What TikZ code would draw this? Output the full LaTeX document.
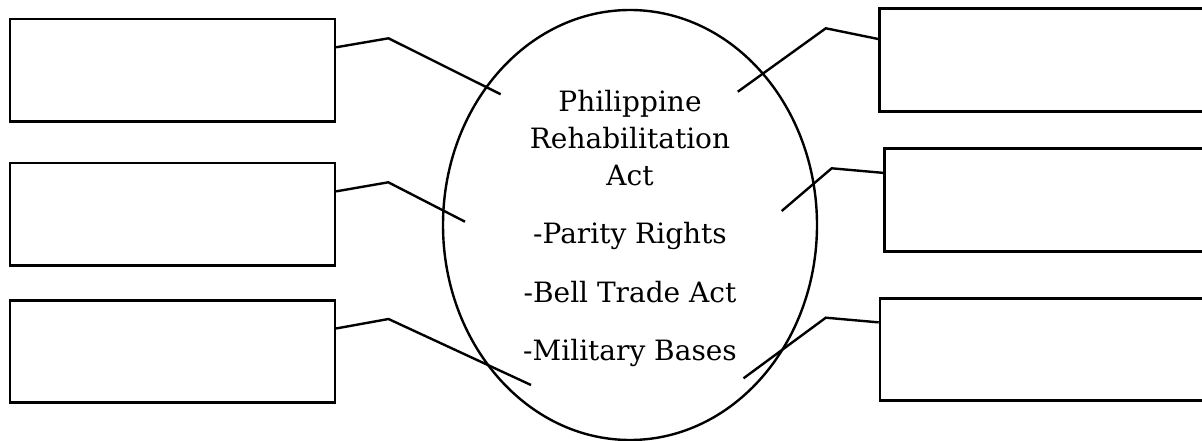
\documentclass[tikz,border=0pt]{standalone}
\usepackage{fontspec}
\setmainfont{DejaVu Serif}
\usetikzlibrary{shapes.geometric}
\tikzset{
  blank/.style={draw=black, line width=2.6pt, rectangle, inner sep=0pt, minimum width=325pt, minimum height=102.5pt},
  rblank/.style={blank, minimum width=340pt},
  link/.style={draw=black, line width=2.4pt, line join=miter},
  hub/.style={draw=black, line width=2.4pt, ellipse, inner sep=0pt, minimum width=374pt, minimum height=430pt},
  label/.style={anchor=base, inner sep=0pt, font=\fontsize{28}{32}\selectfont}
}
\begin{document}
\begin{tikzpicture}[x=1pt, y=-1pt]
\useasboundingbox (0,0) rectangle (1202,441);
\clip (0,0) rectangle (1202,441);
\fill[white] (0,0) rectangle (1202,441);
% central ellipse
\node[hub] (hub) at (630,225) {};
% text
\node[label] (t1) at (630,111.7) {Philippine};
\node[label] (t2) at (630,148.5) {Rehabilitation};
\node[label] (t3) at (630,185.7) {Act};
\node[label] (p1) at (630,243.3) {-Parity Rights};
\node[label] (p2) at (630,302.7) {-Bell Trade Act};
\node[label] (p3) at (630,360.7) {-Military Bases};
% left boxes
\node[blank] (lb1) at (172.3,70.3) {};
\node[blank] (lb2) at (172.3,214.4) {};
\node[blank] (lb3) at (172.3,351.5) {};
% right boxes
\node[rblank] (rb1) at (1049.4,60) {};
\node[rblank] (rb2) at (1054.5,200) {};
\node[rblank] (rb3) at (1050,349.5) {};
% bend and end coordinates
\coordinate (l1b) at (388.5,38.3);  \coordinate (l1e) at (500.7,94.3);
\coordinate (l2b) at (388.3,182.3); \coordinate (l2e) at (465,221.7);
\coordinate (l3b) at (388.5,319);   \coordinate (l3e) at (531,385);
\coordinate (r1b) at (825.8,28.3);  \coordinate (r1e) at (737.8,91.7);
\coordinate (r2b) at (831.7,168.3); \coordinate (r2e) at (781.7,211);
\coordinate (r3b) at (825.8,317.7); \coordinate (r3e) at (743.5,378.3);
% connectors
\draw[link] (lb1.8.8) -- (l1b) -- (l1e);
\draw[link] (lb2.8.8) -- (l2b) -- (l2e);
\draw[link] (lb3.8.7) -- (l3b) -- (l3e);
\draw[link] (rb1.173.6) -- (r1b) -- (r1e);
\draw[link] (rb2.171.6) -- (r2b) -- (r2e);
\draw[link] (rb3.171.6) -- (r3b) -- (r3e);
\end{tikzpicture}
\end{document}
